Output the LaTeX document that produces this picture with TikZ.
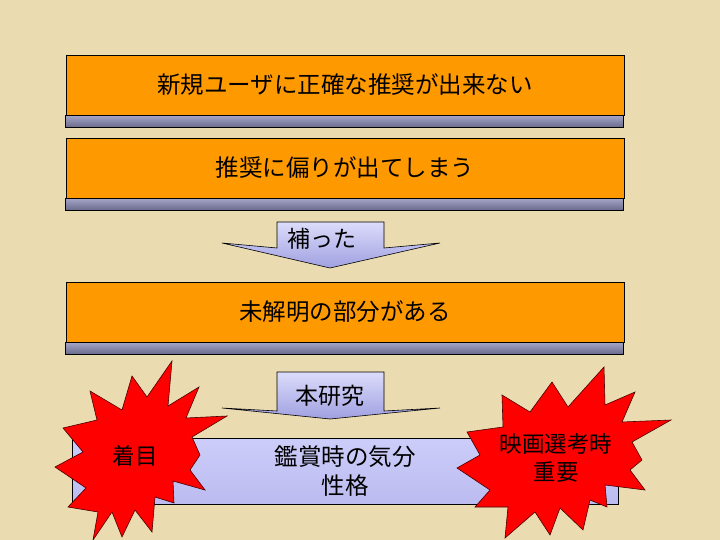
\documentclass[tikz,border=0pt]{standalone}
\usepackage{fontspec}
\setmainfont{Noto Sans CJK JP}
\definecolor{bgC}{RGB}{234,219,176}
\definecolor{orangeC}{RGB}{255,153,0}
\definecolor{stripTop}{RGB}{165,165,200}
\definecolor{stripBot}{RGB}{105,105,140}
\definecolor{lavTop}{RGB}{205,205,250}
\definecolor{lavBot}{RGB}{160,160,225}
\definecolor{starC}{RGB}{255,0,0}
\begin{document}
\begin{tikzpicture}[x=1pt,y=-1pt]
\tikzset{
  obox/.style={draw=black, line width=0.8pt, fill=orangeC, minimum width=558pt,
    minimum height=60pt, inner sep=0pt, font=\fontsize{23.5}{27}\selectfont},
  strip/.style={draw=black, line width=0.8pt, top color=stripTop, bottom color=stripBot},
  blockarrow/.style={draw=black, line width=0.6pt, top color=lavTop!70!white, bottom color=lavBot},
  lbl/.style={font=\fontsize{23}{27}\selectfont, inner sep=0pt},
  star/.style={draw=black!70!red, line width=0.6pt, fill=starC},
}
\useasboundingbox (0,0) rectangle (720,540);
\fill[bgC] (0,0) rectangle (720,540);

% top boxes
\node[obox] (b1) at (345,85) {新規ユーザに正確な推奨が出来ない};
\draw[strip] (b1.south west) rectangle ++(558,12);
\node[obox] (b2) at (345,168) {推奨に偏りが出てしまう};
\draw[strip] (b2.south west) rectangle ++(558,12);

% arrow 1
\draw[blockarrow] (277,222) -- (384,222) -- (384,248) -- (440,243) -- (330,268)
  -- (222,243) -- (277,248) -- cycle;
\node[lbl] (a1) at (322,239) {補った};

\node[obox] (b3) at (345,312) {未解明の部分がある};
\draw[strip] (b3.south west) rectangle ++(558,12);

% arrow 2
\draw[blockarrow] (277,372) -- (384,372) -- (384,411) -- (440,408) -- (330,419)
  -- (222,408) -- (277,411) -- cycle;
\node[lbl] (a2) at (330,396) {本研究};

% bottom box
\node[draw=black, line width=0.8pt, top color=lavTop, bottom color=lavTop!60!lavBot,
  minimum width=546pt, minimum height=66pt, inner sep=0pt, align=center,
  font=\fontsize{23.5}{29}\selectfont] (b4) at (345,471) {鑑賞時の気分\\性格};

% stars
\draw[star] (172,361) -- (168,406) -- (199,387) -- (186,418) -- (227,416) -- (192,437)
  -- (200,455) -- (190,470) -- (205,490) -- (173,481) -- (174,503) -- (155,497)
  -- (152,532) -- (135,510) -- (122,537) -- (112,512) -- (93,540) -- (98,512)
  -- (68,507) -- (86,488) -- (55,467) -- (83,452) -- (63,428) -- (97,420)
  -- (90,391) -- (122,410) -- (132,376) -- (147,397) -- cycle;
\node[lbl, font=\fontsize{22.5}{27}\selectfont] (s1) at (135,456) {着目};

\draw[star] (604,367) -- (605,405) -- (635,392) -- (622,422) -- (671,420) -- (632,442)
  -- (642,460) -- (630,470) -- (645,490) -- (605,485) -- (607,507) -- (590,500)
  -- (583,530) -- (560,508) -- (550,535) -- (535,512) -- (505,538) -- (508,507)
  -- (475,507) -- (490,490) -- (457,468) -- (480,455) -- (467,432) -- (503,427)
  -- (502,395) -- (530,412) -- (552,382) -- (568,407) -- cycle;
\node[lbl, align=center, font=\fontsize{22.5}{28}\selectfont] (s2) at (556,458) {映画選考時\\重要};
\end{tikzpicture}
\end{document}
